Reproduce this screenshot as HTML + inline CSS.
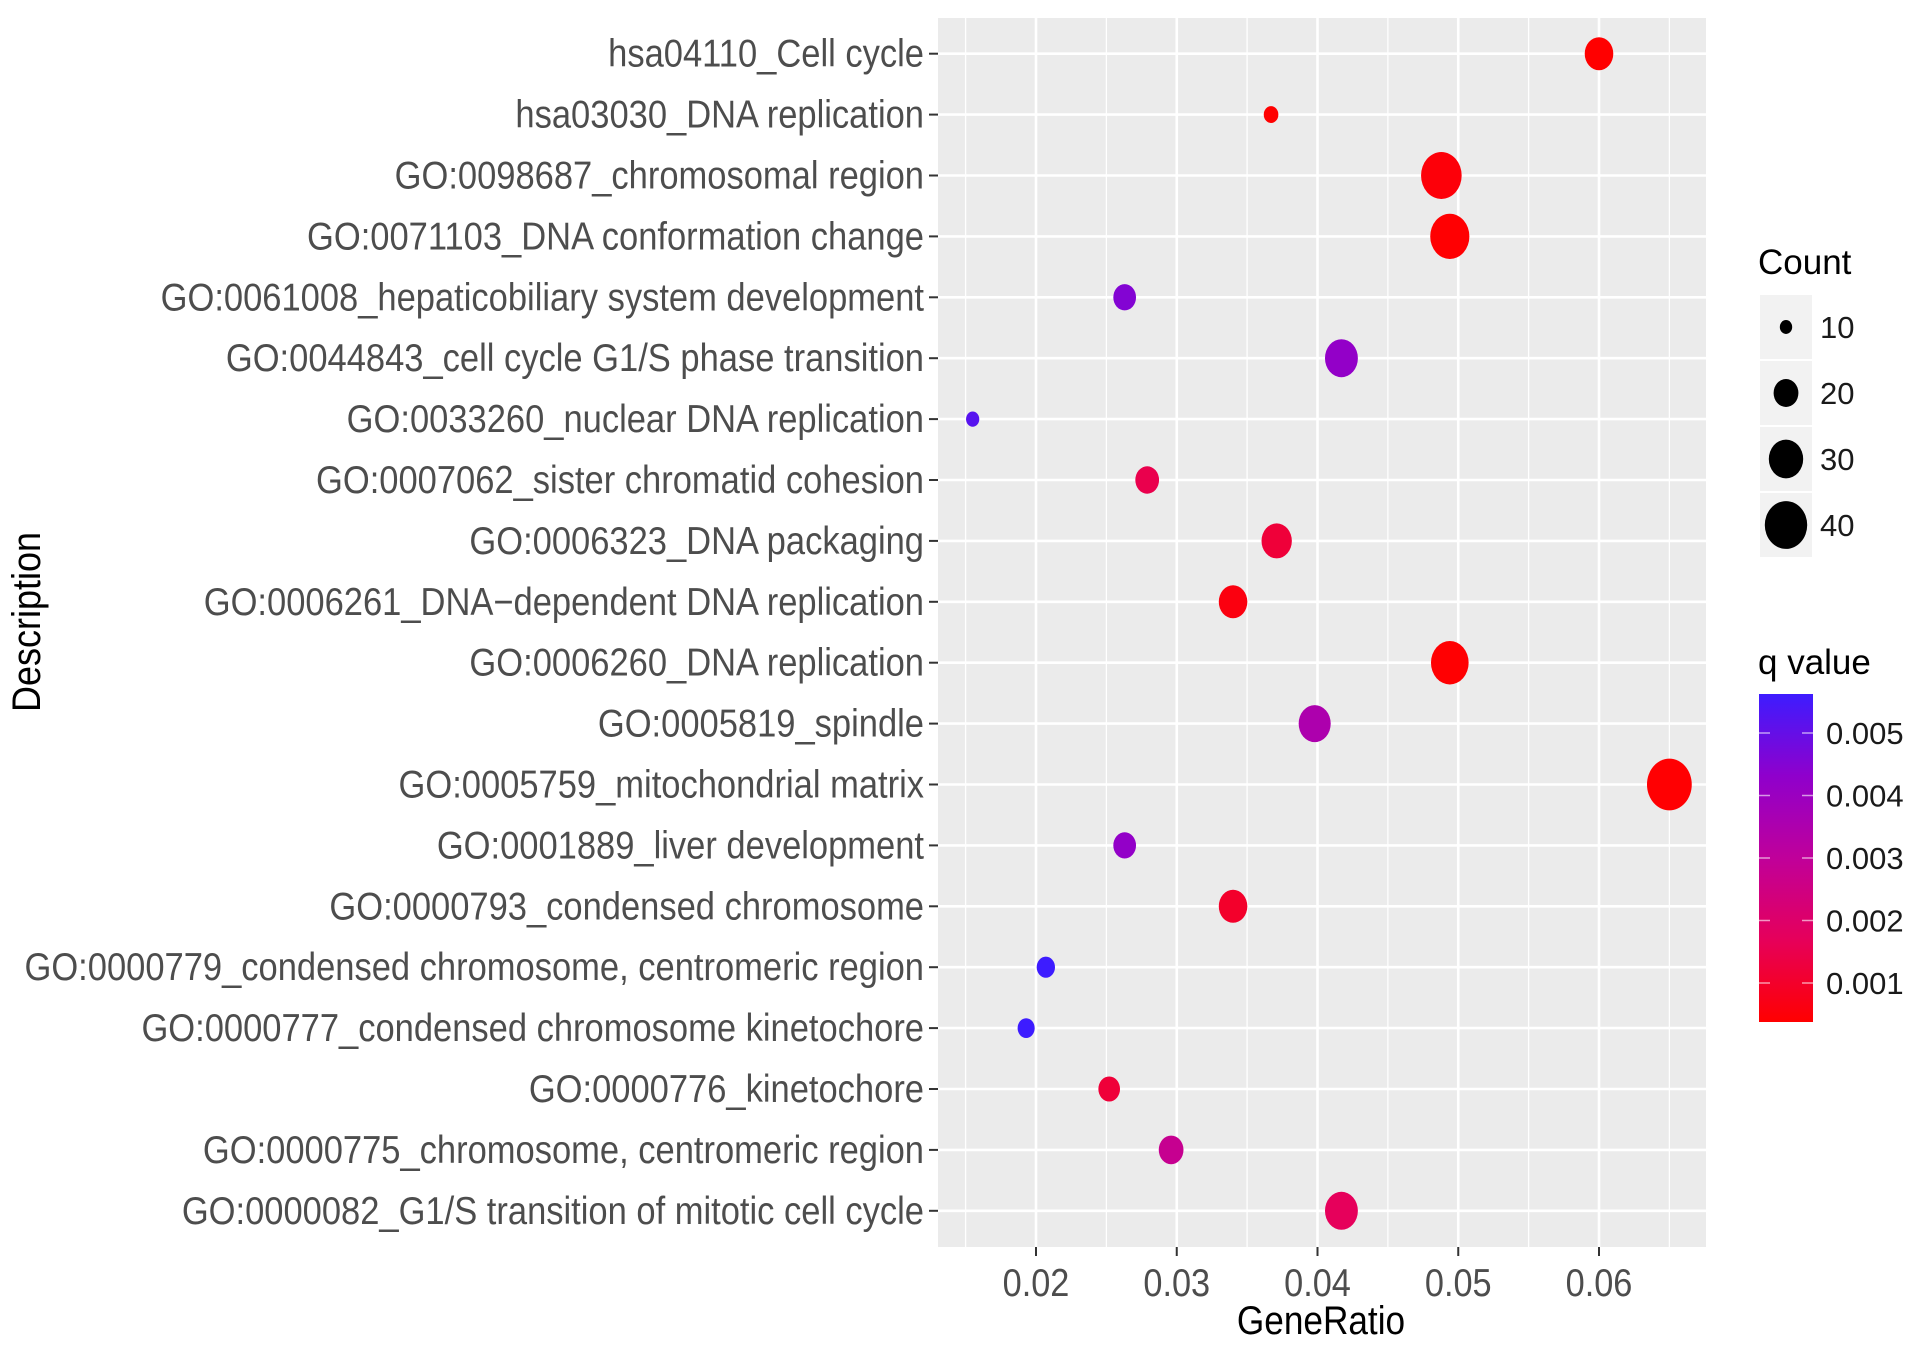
<!DOCTYPE html>
<html><head><meta charset="utf-8"><style>
html,body{margin:0;padding:0;background:#fff;}
svg{display:block;font-family:"Liberation Sans",Arial,sans-serif;}
</style></head><body>
<svg id="chart" width="1913" height="1361" viewBox="0 0 1913 1361" xmlns="http://www.w3.org/2000/svg">
<defs>
<linearGradient id="qgrad" x1="0" y1="1" x2="0" y2="0">
<stop offset="0" stop-color="#ff0000"/><stop offset="0.25" stop-color="#e6005a"/><stop offset="0.5" stop-color="#c0009a"/><stop offset="0.75" stop-color="#8f00cc"/><stop offset="1" stop-color="#3d1cff"/>
</linearGradient>
</defs>
<g id="panel"></g>
<g id="ylabels"></g>
<g id="xaxis"></g>
<g id="dots"></g>
<text x="1321" y="1334" font-size="40" fill="#000" text-anchor="middle" transform="translate(1321,0) scale(0.88,1) translate(-1321,0)">GeneRatio</text>
<text x="0" y="0" font-size="40" fill="#000" text-anchor="middle" transform="translate(40,622) rotate(-90) scale(0.9,1)">Description</text>
<g id="legend"></g>
</svg>
<script>
const categories=["hsa04110_Cell cycle","hsa03030_DNA replication","GO:0098687_chromosomal region","GO:0071103_DNA conformation change","GO:0061008_hepaticobiliary system development","GO:0044843_cell cycle G1/S phase transition","GO:0033260_nuclear DNA replication","GO:0007062_sister chromatid cohesion","GO:0006323_DNA packaging","GO:0006261_DNA\u2212dependent DNA replication","GO:0006260_DNA replication","GO:0005819_spindle","GO:0005759_mitochondrial matrix","GO:0001889_liver development","GO:0000793_condensed chromosome","GO:0000779_condensed chromosome, centromeric region","GO:0000777_condensed chromosome kinetochore","GO:0000776_kinetochore","GO:0000775_chromosome, centromeric region","GO:0000082_G1/S transition of mitotic cell cycle"];
const geneRatio=[0.0600,0.0367,0.0488,0.0494,0.0263,0.0417,0.0155,0.0279,0.0371,0.0340,0.0494,0.0398,0.0650,0.0263,0.0340,0.0207,0.0193,0.0252,0.0296,0.0417];
const counts=[25,12,40,38,19,30,11,20,27,25,36,29,46,19,25,15,14,18,21,30];
const qValues=[0.0003,0.0003,0.0005,0.0004,0.0045,0.0042,0.0052,0.0015,0.0012,0.0006,0.0004,0.0035,0.0004,0.0042,0.0010,0.0057,0.0058,0.0012,0.0028,0.0017];
const xTicks=[0.02,0.03,0.04,0.05,0.06];
const xMinor=[0.015,0.025,0.035,0.045,0.055,0.065];
const sizeBreaks=[10,20,30,40];
const qTicks=[0.005,0.004,0.003,0.002,0.001];

const NS="http://www.w3.org/2000/svg";
const P={l:938,r:1706,t:18,b:1247};
const X=v=>1036+(v-0.02)*14075;
const Y=i=>53.7+i*60.9;
const D=c=>Math.max(7,1.1*(-17.1+9.19*Math.sqrt(c)));
const QY=q=>733+(0.005-q)*62500;
const stops=[[0,[255,0,0]],[0.25,[230,0,90]],[0.5,[192,0,154]],[0.75,[143,0,204]],[1,[61,28,255]]];
function qColor(q){let t=(q-0.000376)/(0.00562-0.000376);t=Math.max(0,Math.min(1,t));
 for(let i=1;i<stops.length;i++){if(t<=stops[i][0]){const a=stops[i-1],b=stops[i],f=(t-a[0])/(b[0]-a[0]);
 return "rgb("+a[1].map((v,k)=>Math.round(v+(b[1][k]-v)*f)).join(",")+")";}}return "rgb(61,28,255)";}
function mk(tag,attrs,parent){const e=document.createElementNS(NS,tag);for(const k in attrs)e.setAttribute(k,attrs[k]);parent.appendChild(e);return e;}

const panel=document.getElementById('panel');
let bg=mk('rect',{x:P.l,y:P.t,width:P.r-P.l,height:P.b-P.t,fill:'#ebebeb'},panel);


xMinor.forEach(v=>{const l=mk('line',{x1:X(v),x2:X(v),y1:P.t,y2:P.b,stroke:'#fff','stroke-width':1.3},panel);
 
 });
xTicks.forEach(v=>{const l=mk('line',{x1:X(v),x2:X(v),y1:P.t,y2:P.b,stroke:'#fff','stroke-width':2.6},panel);
 
 });
categories.forEach((c,i)=>{const l=mk('line',{x1:P.l,x2:P.r,y1:Y(i),y2:Y(i),stroke:'#fff','stroke-width':2.6},panel);
 
 });

const yl=document.getElementById('ylabels');
categories.forEach((c,i)=>{
 const tk=mk('line',{x1:P.l-9,x2:P.l,y1:Y(i),y2:Y(i),stroke:'#333','stroke-width':2},yl);
 
 
 const t=mk('text',{x:0,y:0,'font-size':39,fill:'#4d4d4d','text-anchor':'end',transform:`translate(${P.l-14},${Y(i)+13}) scale(0.885,1)`},yl);
 t.textContent=c;
 
 });

const xa=document.getElementById('xaxis');
xTicks.forEach(v=>{
 const tk=mk('line',{x1:X(v),x2:X(v),y1:P.b,y2:P.b+9,stroke:'#333','stroke-width':2},xa);
 
 
 const t=mk('text',{x:0,y:0,'font-size':39,fill:'#4d4d4d','text-anchor':'middle',transform:`translate(${X(v)},${P.b+49}) scale(0.88,1)`},xa);
 t.textContent=v.toFixed(2);
 
 });

const dots=document.getElementById('dots');
categories.forEach((c,i)=>{const d=D(counts[i]);
 const e=mk('ellipse',{cx:X(geneRatio[i]),cy:Y(i),rx:d*0.45,ry:d*0.52,fill:qColor(qValues[i])},dots);
 
 });

const lg=document.getElementById('legend');
let ct=mk('text',{x:1758,y:274,'font-size':35,fill:'#000'},lg);ct.textContent='Count';


sizeBreaks.forEach((s,i)=>{const cy=327+i*66;
 const b=mk('rect',{x:1760,y:cy-32,width:52,height:64,fill:'#f2f2f2'},lg);
 
 
 const d=D(s);
 const e=mk('ellipse',{cx:1786,cy:cy,rx:d*0.47,ry:d*0.53,fill:'#000'},lg);
 
 
 const t=mk('text',{x:1820,y:cy+11,'font-size':31,fill:'#1a1a1a'},lg);t.textContent=s;
 
 });
let qt=mk('text',{x:1758,y:674,'font-size':35,fill:'#000'},lg);qt.textContent='q value';


let cb=mk('rect',{x:1759,y:694,width:54,height:328,fill:'url(#qgrad)'},lg);


qTicks.forEach(q=>{const y=QY(q);
 mk('line',{x1:1759,x2:1770,y1:y,y2:y,stroke:'#fff','stroke-width':1.5,opacity:0.6},lg);
 mk('line',{x1:1802,x2:1813,y1:y,y2:y,stroke:'#fff','stroke-width':1.5,opacity:0.6},lg);
 const t=mk('text',{x:1826,y:y+11,'font-size':31,fill:'#1a1a1a'},lg);t.textContent=q.toFixed(3);
 
 });
</script>
</body></html>
